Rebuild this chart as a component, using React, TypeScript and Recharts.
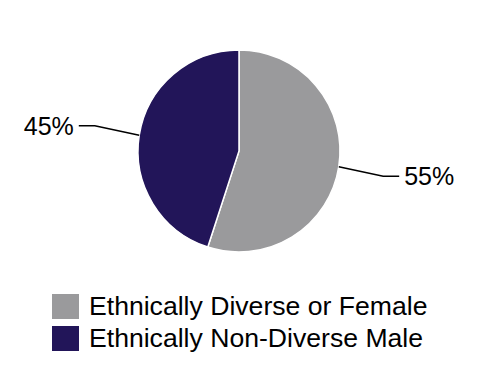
import React from "react";
import { PieChart, Pie, Cell, Legend } from "recharts";

const categories = ["Ethnically Diverse or Female", "Ethnically Non-Diverse Male"];
const values = [55, 45];
const colors = ["#9a9a9c", "#221559"];

const data = categories.map((name, i) => ({ name, value: values[i] }));

const RAD = Math.PI / 180;

const renderLabel = (props: any) => {
  const { cx, cy, midAngle, outerRadius, percent } = props;
  const cos = Math.cos(-midAngle * RAD);
  const sin = Math.sin(-midAngle * RAD);
  const sx = cx + outerRadius * cos;
  const sy = cy + outerRadius * sin;
  const mx = sx + cos * 45;
  const my = sy + sin * 60;
  const sign = cos >= 0 ? 1 : -1;
  const ex = mx + sign * 16;
  const tx = ex + sign * 5;
  return (
    <g>
      <polyline
        points={`${sx},${sy} ${mx},${my} ${ex},${my}`}
        fill="none"
        stroke="#000"
        strokeWidth={1.5}
      />
      <text
        x={tx}
        y={my}
        textAnchor={sign > 0 ? "start" : "end"}
        dominantBaseline="central"
        fontSize={25}
        fill="#000"
        fontFamily="'Liberation Sans', Arial, sans-serif"
      >
        {`${Math.round(percent * 100)}%`}
      </text>
    </g>
  );
};

const renderLegend = () => (
  <div style={{ fontFamily: "'Liberation Sans', Arial, sans-serif", fontSize: 26.6, color: "#000" }}>
    {categories.map((c, i) => (
      <div key={c} style={{ display: "flex", alignItems: "center", height: 32.5, marginLeft: 52 }}>
        <span style={{ display: "inline-block", width: 27, height: 25, background: colors[i], marginRight: 10 }} />
        <span>{c}</span>
      </div>
    ))}
  </div>
);

export default function App() {
  return (
    <div style={{ margin: -8 }}>
      <PieChart width={478} height={380} margin={{ top: 0, right: 0, bottom: 0, left: 0 }}>
        <Pie
          data={data}
          dataKey="value"
          nameKey="name"
          cx={239}
          cy={151}
          outerRadius={101}
          startAngle={90}
          endAngle={-270}
          stroke="#fff"
          strokeWidth={1.5}
          label={renderLabel}
          labelLine={false}
          isAnimationActive={false}
        >
          {data.map((d, i) => (
            <Cell key={d.name} fill={colors[i]} />
          ))}
        </Pie>
        <Legend
          content={renderLegend}
          layout="horizontal"
          verticalAlign="bottom"
          align="left"
          wrapperStyle={{ top: 290, left: 0, width: 478, bottom: "auto" }}
        />
      </PieChart>
    </div>
  );
}
